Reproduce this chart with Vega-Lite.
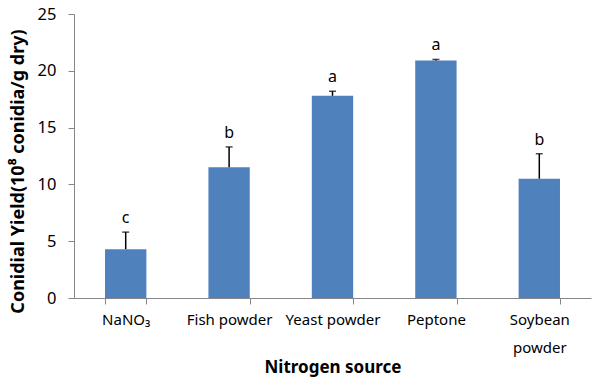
{
  "$schema": "https://vega.github.io/schema/vega-lite/v6.json",
  "autosize": {"type": "none"},
  "padding": {"left": 74, "top": 14, "right": 1, "bottom": 81},
  "width": 517,
  "height": 284,
  "config": {
    "view": {"stroke": null},
    "font": "Noto Sans",
    "axis": {"domainColor": "#868686", "tickColor": "#868686", "labelColor": "#000000", "titleColor": "#000000", "labelFont": "Noto Sans", "titleFont": "Noto Sans", "grid": false}
  },
  "data": {
    "values": [
      {"source": "NaNO₃", "yield": 4.3, "err": 5.8, "letter": "c"},
      {"source": "Fish powder", "yield": 11.5, "err": 13.3, "letter": "b"},
      {"source": "Yeast powder", "yield": 17.8, "err": 18.2, "letter": "a"},
      {"source": "Peptone", "yield": 20.9, "err": 21.0, "letter": "a"},
      {"source": "Soybean powder", "yield": 10.5, "err": 12.7, "letter": "b"}
    ]
  },
  "encoding": {
    "x": {
      "field": "source", "type": "nominal", "sort": null,
      "scale": {"paddingInner": 0.6, "paddingOuter": 0.3},
      "axis": {
        "title": "Nitrogen source", "titleFontSize": 17, "titleFontWeight": "bold",
        "titleY": 69, "titleBaseline": "middle",
        "labelAngle": 0, "labelFontSize": 15, "labelPadding": 8, "tickSize": 6,
        "tickBand": "extent", "labelLineHeight": 28,
        "labelExpr": "datum.label == 'Soybean powder' ? ['Soybean', 'powder'] : datum.label"
      }
    }
  },
  "layer": [
    {
      "mark": {"type": "bar", "color": "#4F81BD"},
      "encoding": {
        "y": {
          "field": "yield", "type": "quantitative",
          "scale": {"domain": [0, 25], "nice": false},
          "axis": {
            "title": "Conidial Yield(10⁸ conidia/g dry)", "titleFontSize": 18, "titleFontWeight": "bold",
            "titleX": -56, "titleY": 157, "titleBaseline": "middle", "titleAngle": -90, "titleAlign": "center",
            "values": [0, 5, 10, 15, 20, 25], "labelFontSize": 16.5, "labelPadding": 12, "tickSize": 6
          }
        }
      }
    },
    {
      "mark": {"type": "rule", "color": "#000000", "strokeWidth": 1.5},
      "encoding": {"y": {"field": "yield", "type": "quantitative"}, "y2": {"field": "err"}}
    },
    {
      "mark": {"type": "tick", "color": "#000000", "thickness": 1.5, "size": 7},
      "encoding": {"y": {"field": "err", "type": "quantitative"}}
    },
    {
      "mark": {"type": "text", "fontSize": 16, "baseline": "alphabetic", "dy": -9, "color": "#000000"},
      "encoding": {"y": {"field": "err", "type": "quantitative"}, "text": {"field": "letter"}}
    }
  ]
}
